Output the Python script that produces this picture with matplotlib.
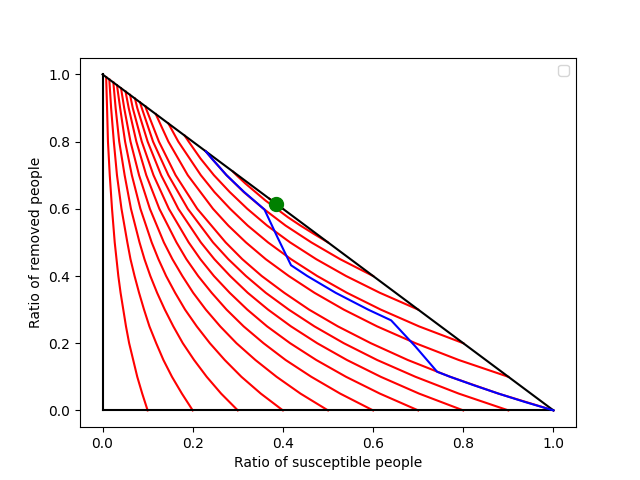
import matplotlib
matplotlib.use("Agg")

import matplotlib.pyplot as plt

# removed ratio at which the curves starting on the S axis were read
removed_grid = [0.0, 0.05, 0.10, 0.15, 0.20, 0.25, 0.30, 0.35, 0.40, 0.45, 0.50, 0.60, 0.70, 0.80, 0.90]

# susceptible ratio of each curve starting on the S axis (S0 = 0.1 ... 1.0)
axis_s_01 = [0.100, 0.088, 0.077, 0.068, 0.059, 0.052, 0.046, 0.040, 0.035, 0.031, 0.027, 0.021, 0.016, 0.012, 0.010]
axis_s_02 = [0.200, 0.176, 0.154, 0.135, 0.119, 0.104, 0.092, 0.081, 0.071, 0.062, 0.055, 0.042, 0.032, 0.025, 0.019]
axis_s_03 = [0.300, 0.263, 0.231, 0.203, 0.178, 0.157, 0.138, 0.121, 0.106, 0.093, 0.082, 0.063, 0.049, 0.037, 0.029]
axis_s_04 = [0.400, 0.351, 0.308, 0.271, 0.238, 0.209, 0.183, 0.161, 0.141, 0.124, 0.109, 0.084, 0.065, 0.050, 0.039]
axis_s_05 = [0.500, 0.439, 0.386, 0.339, 0.297, 0.261, 0.229, 0.201, 0.177, 0.155, 0.136, 0.105, 0.081, 0.062, 0.048]
axis_s_06 = [0.600, 0.527, 0.463, 0.406, 0.357, 0.313, 0.275, 0.242, 0.212, 0.186, 0.164, 0.126, 0.097, 0.075, 0.058]
axis_s_07 = [0.700, 0.615, 0.540, 0.474, 0.416, 0.365, 0.321, 0.282, 0.247, 0.217, 0.191, 0.147, 0.113, 0.087, 0.067]
axis_s_08 = [0.800, 0.702, 0.617, 0.542, 0.476, 0.418, 0.367, 0.322, 0.283, 0.248, 0.218, 0.168, 0.130, 0.100, 0.077]
axis_s_09 = [0.900, 0.790, 0.694, 0.609, 0.535, 0.470, 0.413, 0.362, 0.318, 0.279, 0.245, 0.189, 0.146, 0.112, 0.087]
axis_s_10 = [1.000, 0.878, 0.771, 0.677, 0.595, 0.522, 0.458, 0.403, 0.353, 0.310, 0.273, 0.210, 0.162, 0.125, 0.096]

# where those curves stop on the diagonal
axis_end_s = [0.008, 0.015, 0.024, 0.032, 0.041, 0.051, 0.061, 0.072, 0.083, 0.095]
axis_end_r = [0.992, 0.985, 0.976, 0.968, 0.959, 0.949, 0.939, 0.928, 0.917, 0.905]

# curves starting on the diagonal
diag_s_09 = [0.900, 0.790, 0.694, 0.609, 0.535, 0.470, 0.413, 0.362, 0.318, 0.279, 0.245, 0.189, 0.146, 0.118]
diag_r_09 = [0.100, 0.150, 0.200, 0.250, 0.300, 0.350, 0.400, 0.450, 0.500, 0.550, 0.600, 0.700, 0.800, 0.882]
diag_s_08 = [0.800, 0.702, 0.617, 0.542, 0.476, 0.418, 0.367, 0.322, 0.283, 0.248, 0.218, 0.168, 0.146]
diag_r_08 = [0.200, 0.250, 0.300, 0.350, 0.400, 0.450, 0.500, 0.550, 0.600, 0.650, 0.700, 0.800, 0.854]
diag_s_07 = [0.700, 0.615, 0.540, 0.474, 0.416, 0.365, 0.321, 0.282, 0.247, 0.217, 0.191, 0.182]
diag_r_07 = [0.300, 0.350, 0.400, 0.450, 0.500, 0.550, 0.600, 0.650, 0.700, 0.750, 0.800, 0.818]
diag_s_06 = [0.600, 0.527, 0.463, 0.406, 0.357, 0.313, 0.275, 0.242, 0.228]
diag_r_06 = [0.400, 0.450, 0.500, 0.550, 0.600, 0.650, 0.700, 0.750, 0.772]
diag_s_05 = [0.500, 0.469, 0.439, 0.411, 0.386, 0.361, 0.339, 0.317, 0.297, 0.289]
diag_r_05 = [0.500, 0.525, 0.550, 0.575, 0.600, 0.625, 0.650, 0.675, 0.700, 0.711]
diag_s_04 = [0.400, 0.385, 0.370]
diag_r_04 = [0.600, 0.615, 0.630]

# blue path (with interventions)
path_s = [1.000, 0.937, 0.878, 0.823, 0.771, 0.742, 0.694, 0.640, 0.589, 0.517, 0.454, 0.418,
          0.388, 0.359, 0.314, 0.275, 0.242, 0.229]
path_r = [0.000, 0.025, 0.050, 0.075, 0.100, 0.115, 0.190, 0.268, 0.300, 0.350, 0.400, 0.432,
          0.515, 0.598, 0.650, 0.700, 0.750, 0.771]

# threshold point
dot_s = [0.385]
dot_r = [0.615]

fig, ax = plt.subplots(figsize=(6.4, 4.8), dpi=100)

axis_curves = [axis_s_01, axis_s_02, axis_s_03, axis_s_04, axis_s_05,
               axis_s_06, axis_s_07, axis_s_08, axis_s_09, axis_s_10]
for s_vals, s_end, r_end in zip(axis_curves, axis_end_s, axis_end_r):
    ax.plot(s_vals + [s_end], removed_grid + [r_end], color="red")

diag_curves = [(diag_s_09, diag_r_09), (diag_s_08, diag_r_08), (diag_s_07, diag_r_07),
               (diag_s_06, diag_r_06), (diag_s_05, diag_r_05), (diag_s_04, diag_r_04)]
for s_vals, r_vals in diag_curves:
    ax.plot(s_vals, r_vals, color="red")

# triangle border
ax.plot([0, 1], [1, 0], color="black")
ax.plot([0, 1], [0, 0], color="black")
ax.plot([0, 0], [0, 1], color="black")

ax.plot(path_s, path_r, color="blue")
ax.scatter(dot_s, dot_r, s=100, color="green", zorder=5)

ax.set_xlabel("Ratio of susceptible people")
ax.set_ylabel("Ratio of removed people")
ax.legend(loc="upper right")

fig.savefig("out.png", dpi=100)
